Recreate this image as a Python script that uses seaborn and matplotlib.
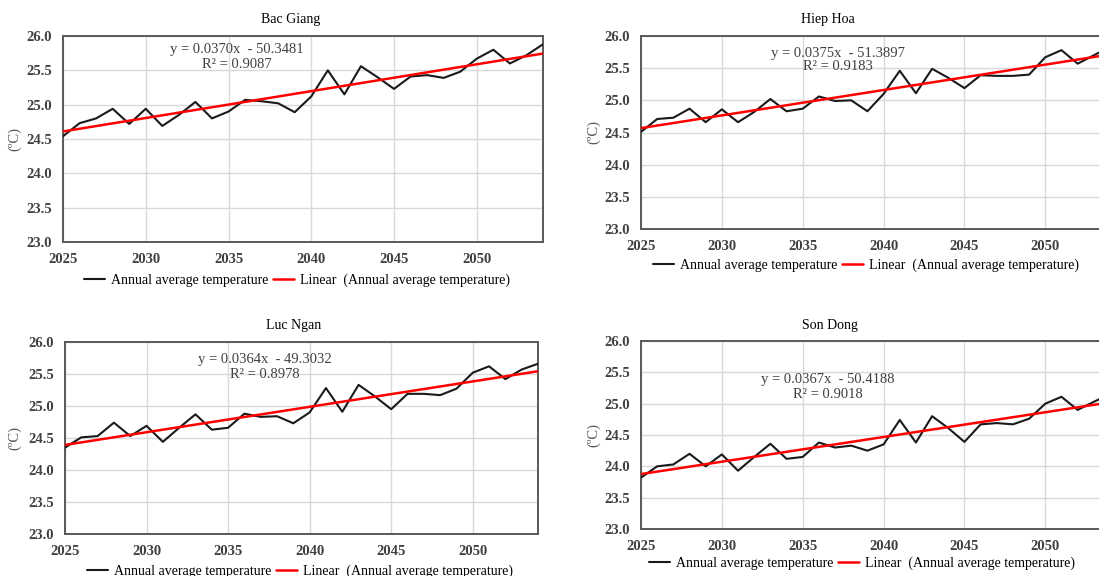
import numpy as np
import pandas as pd
import seaborn as sns
import matplotlib.pyplot as plt
from matplotlib.lines import Line2D
from matplotlib.ticker import FormatStrFormatter

# ---------------------------
# data
years = list(range(2025, 2055))

bac_giang = [24.54, 24.73, 24.80, 24.94, 24.72, 24.94, 24.69, 24.85, 25.04, 24.80,
             24.90, 25.07, 25.05, 25.02, 24.89, 25.12, 25.50, 25.15, 25.56, 25.40,
             25.23, 25.41, 25.43, 25.39, 25.48, 25.67, 25.80, 25.60, 25.72, 25.88]
hiep_hoa = [24.51, 24.71, 24.73, 24.87, 24.66, 24.86, 24.66, 24.82, 25.02, 24.83,
            24.87, 25.06, 24.99, 25.00, 24.83, 25.10, 25.46, 25.11, 25.49, 25.35,
            25.19, 25.39, 25.38, 25.38, 25.40, 25.67, 25.78, 25.57, 25.70, 25.83]
luc_ngan = [24.35, 24.51, 24.53, 24.74, 24.53, 24.69, 24.44, 24.66, 24.87, 24.63,
            24.66, 24.88, 24.83, 24.84, 24.73, 24.90, 25.28, 24.91, 25.33, 25.15,
            24.95, 25.19, 25.19, 25.17, 25.27, 25.52, 25.62, 25.42, 25.57, 25.66]
son_dong = [23.82, 24.00, 24.03, 24.20, 24.00, 24.19, 23.93, 24.15, 24.36, 24.12,
            24.15, 24.38, 24.30, 24.33, 24.25, 24.35, 24.74, 24.38, 24.80, 24.61,
            24.39, 24.67, 24.69, 24.67, 24.76, 25.00, 25.11, 24.90, 25.03, 25.15]

stations = ["Bac Giang", "Hiep Hoa", "Luc Ngan", "Son Dong"]
equations = ["y = 0.0370x  - 50.3481", "y = 0.0375x  - 51.3897",
             "y = 0.0364x  - 49.3032", "y = 0.0367x  - 50.4188"]
r_squared = ["R\u00b2 = 0.9087", "R\u00b2 = 0.9183", "R\u00b2 = 0.8978", "R\u00b2 = 0.9018"]

y_ticks = [23.0, 23.5, 24.0, 24.5, 25.0, 25.5, 26.0]
x_ticks = [2025, 2030, 2035, 2040, 2045, 2050]

series = {"Bac Giang": bac_giang, "Hiep Hoa": hiep_hoa,
          "Luc Ngan": luc_ngan, "Son Dong": son_dong}

# ---------------------------
sns.set_theme(style="white")
plt.rcParams['font.family'] = ['Liberation Serif', 'DejaVu Serif']

W, H = 1099, 576
fig = plt.figure(figsize=(W / 100, H / 100), dpi=100)


def fx(px):
    return px / W


def fy(py):
    return 1 - py / H


# axes boxes in pixels: left, top, right, bottom
boxes = [(63, 36, 543, 242), (641, 36, 1110, 229),
         (65, 342, 538, 534), (641, 341, 1110, 529)]
titles_xy = [(291, 19), (828, 19), (294, 325), (830, 325)]
eq_xy = [(237, 50), (838, 53), (265, 360), (828, 380)]
legend_xy = [(297, 280), (866, 265), (300, 571), (862, 563)]
ylabel_x = [15, 594, 15, 594]

frame_col = "#595959"
grid_col = "#d9d9d9"
tick_col = "#404040"

for i, name in enumerate(stations):
    l, t, r, b = boxes[i]
    ax = fig.add_axes([fx(l), fy(b), fx(r - l), (b - t) / H])
    df = pd.DataFrame({"year": years, "temp": series[name]})

    sns.lineplot(data=df, x="year", y="temp", ax=ax, color="#1a1a1a",
                 linewidth=1.5, zorder=3)
    sns.regplot(data=df, x="year", y="temp", ax=ax, scatter=False, ci=None,
                truncate=True, line_kws={"color": "#ff0000", "linewidth": 1.8,
                                          "zorder": 4})

    ax.set_xlim(2025, 2054)
    ax.set_ylim(23.0, 26.0)
    ax.set_xticks(x_ticks)
    ax.set_yticks(y_ticks)
    ax.yaxis.set_major_formatter(FormatStrFormatter('%.1f'))
    ax.grid(True, color=grid_col, linewidth=1.0)
    ax.set_axisbelow(True)
    ax.tick_params(axis='both', length=0, labelsize=10.5, colors=tick_col)
    ax.tick_params(axis='x', pad=8)
    ax.tick_params(axis='y', pad=8)
    for lab in ax.get_xticklabels() + ax.get_yticklabels():
        lab.set_fontweight('bold')
    for sp in ax.spines.values():
        sp.set_color(frame_col)
        sp.set_linewidth(1.4)
    ax.set_xlabel("")
    ax.set_ylabel("")

    fig.text(fx(ylabel_x[i]), fy((t + b) / 2), "(\u00baC)", rotation=90,
             ha="center", va="center", fontsize=10.5, color="#595959")

    tx, ty = titles_xy[i]
    fig.text(fx(tx), fy(ty), name, ha="center", va="center", fontsize=10,
             color="black")

    ex, ey = eq_xy[i]
    fig.text(fx(ex), fy(ey), equations[i], ha="center", va="center",
             fontsize=10.5, color="#404040")
    fig.text(fx(ex), fy(ey + 14), r_squared[i], ha="center", va="center",
             fontsize=10.5, color="#404040")

    handles = [Line2D([], [], color="#1a1a1a", linewidth=1.5),
               Line2D([], [], color="#ff0000", linewidth=1.8)]
    lx, ly = legend_xy[i]
    fig.legend(handles, ["Annual average temperature",
                         "Linear  (Annual average temperature)"],
               loc="center", bbox_to_anchor=(fx(lx), fy(ly)), ncol=2,
               frameon=False, fontsize=10, handlelength=1.5, handletextpad=0.4,
               columnspacing=0.4, labelcolor="black", borderpad=0.1)

fig.savefig("out.png", dpi=100)
